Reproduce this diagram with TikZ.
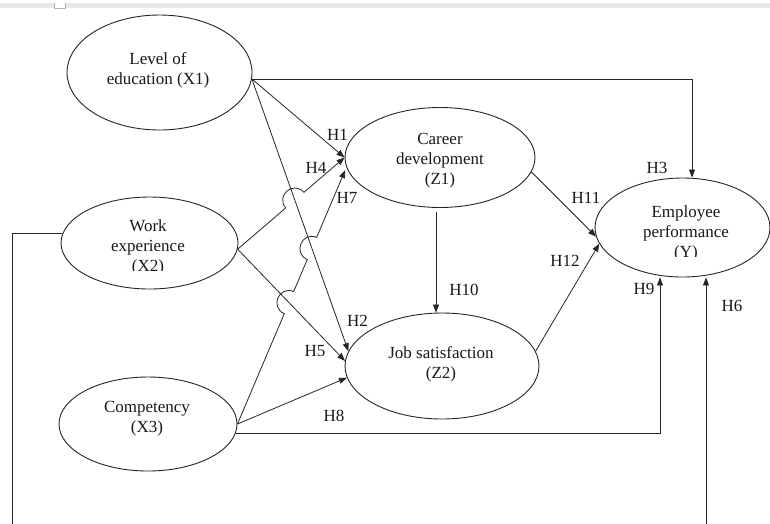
\documentclass[tikz,border=0pt]{standalone}
\usepackage{fontspec}
\setmainfont{Liberation Serif}
\usetikzlibrary{arrows.meta,calc,intersections,shapes.geometric}
\begin{document}
\begin{tikzpicture}[x=1pt,y=-1pt,
  ell/.style={draw=black!85, ellipse, line width=0.9pt, inner sep=0pt},
  lbl/.style={font=\fontsize{17}{20}\selectfont, inner sep=0pt, align=center, text=black!90},
  hl/.style={font=\fontsize{17}{20}\selectfont, inner sep=0pt, text=black!90},
  ln/.style={line width=0.8pt, draw=black!85},
  arr/.style={ln, -{Triangle[length=8pt,width=6pt]}},
]
\clip (0,0) rectangle (770,523);
\fill[white] (0,0) rectangle (770,523);
\fill[gray!18] (0,3.3) rectangle (770,8.3);
\filldraw[fill=white, draw=gray!60, line width=0.6pt] (54,3.3) -- (54,8) -- (65,8) -- (65,3.3);

% ellipses
\node[ell, minimum width=185pt, minimum height=115pt] (X1) at (159.5,72.5) {};
\node[ell, minimum width=177pt, minimum height=92pt] (X2) at (149.5,243) {};
\node[ell, minimum width=178pt, minimum height=94pt] (X3) at (148,424) {};
\node[ell, minimum width=190pt, minimum height=100pt] (Z1) at (440,157.5) {};
\node[ell, minimum width=194pt, minimum height=106pt] (Z2) at (442,366) {};
\node[ell, minimum width=175pt, minimum height=99pt] (Y) at (682.5,227.5) {};

% texts
\node[lbl] (tX1) at (158,70) {Level of\\education (X1)};
\node[lbl] (tZ1) at (440,160.5) {Career\\development\\(Z1)};
\begin{scope}
\clip (596,150) rectangle (769,256.5);
\node[lbl] (tY) at (686,233.5) {Employee\\performance\\(Y)};
\end{scope}
\begin{scope}
\clip (62,200) rectangle (237,270.5);
\node[lbl] (tX2) at (148,247) {Work\\experience\\(X2)};
\end{scope}
\node[lbl] (tZ2) at (441,364.7) {Job satisfaction\\(Z2)};
\node[lbl] (tX3) at (147,419) {Competency\\(X3)};

% connectors
\draw[arr] (X1.-4) -| ([xshift=9.5pt]Y.north);
\draw[arr] (X1.-4) -- (Z1.west);
\draw[arr, name path=p2] (X1.-4) -- (Z2.171.8);
\draw[arr, name path=p5] (X2.-4) -- (Z2.177.7);
\draw[arr] (X3.east) -- (Z2.187);
\draw[arr] (X3.-6.6) -| ([xshift=-22.5pt]Y.south);
\coordinate (lc) at (12,545);
\draw[arr] (X2.174.9) -| (lc) -| ([xshift=23.5pt]Y.south);
\draw[arr] ([xshift=-4pt,yshift=-4pt]Z1.south) -- ([xshift=-4pt]Z1.south |- Z2.north);
\draw[arr] (Z1.-9.5) -- (Y.186.4);
\draw[arr] (Z2.9.5) -- (Y.191.7);

% H4 with line jump
\path[name path=p4] (X2.-4) -- (Z1.west);
\path[name intersections={of=p4 and p2, by=c4}];
\coordinate (c4a) at ($(c4)!12pt!(X2.-4)$);
\coordinate (c4b) at ($(c4)!12pt!(Z1.west)$);
\draw[arr] (X2.-4) -- (c4a) .. controls ($(c4a)!1.333!90:(c4)$) and ($(c4b)!1.333!-90:(c4)$) .. (c4b) -- (Z1.west);

% H7 with two line jumps
\path[name path=p7] (X3.east) -- (Z1.186.4);
\path[name intersections={of=p7 and p5, by=c7}];
\path[name intersections={of=p7 and p2, by=c8}];
\coordinate (c7a) at ($(c7)!12pt!(X3.east)$);
\coordinate (c7b) at ($(c7)!12pt!(Z1.186.4)$);
\coordinate (c8a) at ($(c8)!12pt!(X3.east)$);
\coordinate (c8b) at ($(c8)!12pt!(Z1.186.4)$);
\draw[arr, shorten >=3pt] (X3.east) -- (c7a) .. controls ($(c7a)!1.333!90:(c7)$) and ($(c7b)!1.333!-90:(c7)$) .. (c7b)
  -- (c8a) .. controls ($(c8a)!1.333!90:(c8)$) and ($(c8b)!1.333!-90:(c8)$) .. (c8b) -- (Z1.186.4);

% hypothesis labels
\node[hl] (h1) at (337.5,135) {H1};
\node[hl] (h4) at (316,167.5) {H4};
\node[hl] (h7) at (347,198) {H7};
\node[hl] (h3) at (657,167.5) {H3};
\node[hl] (h11) at (586,197.5) {H11};
\node[hl] (h12) at (565,261) {H12};
\node[hl] (h10) at (464,290) {H10};
\node[hl] (h9) at (644,289) {H9};
\node[hl] (h6) at (732,306) {H6};
\node[hl] (h2) at (357.5,321) {H2};
\node[hl] (h5) at (315,351) {H5};
\node[hl] (h8) at (334,416) {H8};
\end{tikzpicture}
\end{document}
